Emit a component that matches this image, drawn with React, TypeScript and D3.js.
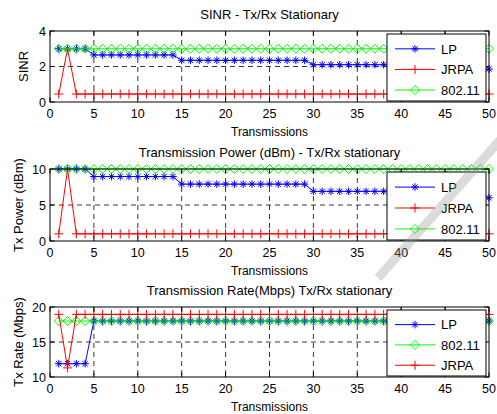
import * as d3 from "d3";

// transmissions 1..50
const transmissions = [
  1, 2, 3, 4, 5, 6, 7, 8, 9, 10, 11, 12, 13, 14, 15, 16, 17, 18, 19, 20,
  21, 22, 23, 24, 25, 26, 27, 28, 29, 30, 31, 32, 33, 34, 35, 36, 37, 38, 39, 40,
  41, 42, 43, 44, 45, 46, 47, 48, 49, 50,
];
const xTicks = [0, 5, 10, 15, 20, 25, 30, 35, 40, 45, 50];

// SINR
const sinrLP = [
  3, 3, 3, 3, 2.65, 2.65, 2.65, 2.65, 2.65, 2.65, 2.65, 2.65, 2.65, 2.65,
  2.35, 2.35, 2.35, 2.35, 2.35, 2.35, 2.35, 2.35, 2.35, 2.35, 2.35, 2.35, 2.35, 2.35, 2.35,
  2.1, 2.1, 2.1, 2.1, 2.1, 2.1, 2.1, 2.1, 2.1, 2.1, 2.1, 2.1, 2.1, 2.1, 2.1,
  1.85, 1.85, 1.85, 1.85, 1.85, 1.85,
];
const sinrJRPA = [
  0.45, 3, 0.45, 0.45, 0.45, 0.45, 0.45, 0.45, 0.45, 0.45, 0.45, 0.45, 0.45, 0.45, 0.45,
  0.45, 0.45, 0.45, 0.45, 0.45, 0.45, 0.45, 0.45, 0.45, 0.45, 0.45, 0.45, 0.45, 0.45, 0.45,
  0.45, 0.45, 0.45, 0.45, 0.45, 0.45, 0.45, 0.45, 0.45, 0.45, 0.45, 0.45, 0.45, 0.45, 0.45,
  0.45, 0.45, 0.45, 0.45, 0.45,
];
const sinr80211 = [
  3, 3, 3, 3, 3, 3, 3, 3, 3, 3, 3, 3, 3, 3, 3, 3, 3, 3, 3, 3, 3, 3, 3, 3, 3,
  3, 3, 3, 3, 3, 3, 3, 3, 3, 3, 3, 3, 3, 3, 3, 3, 3, 3, 3, 3, 3, 3, 3, 3, 3,
];

// Tx power (dBm)
const powerLP = [
  10, 10, 10, 10, 8.95, 8.95, 8.95, 8.95, 8.95, 8.95, 8.95, 8.95, 8.95, 8.95,
  7.9, 7.9, 7.9, 7.9, 7.9, 7.9, 7.9, 7.9, 7.9, 7.9, 7.9, 7.9, 7.9, 7.9, 7.9,
  6.9, 6.9, 6.9, 6.9, 6.9, 6.9, 6.9, 6.9, 6.9, 6.9, 6.9, 6.9, 6.9, 6.9, 6.9,
  6, 6, 6, 6, 6, 6,
];
const powerJRPA = [
  1, 10, 1, 1, 1, 1, 1, 1, 1, 1, 1, 1, 1, 1, 1, 1, 1, 1, 1, 1, 1, 1, 1, 1, 1,
  1, 1, 1, 1, 1, 1, 1, 1, 1, 1, 1, 1, 1, 1, 1, 1, 1, 1, 1, 1, 1, 1, 1, 1, 1,
];
const power80211 = [
  10, 10, 10, 10, 10, 10, 10, 10, 10, 10, 10, 10, 10, 10, 10, 10, 10, 10, 10, 10, 10, 10, 10, 10, 10,
  10, 10, 10, 10, 10, 10, 10, 10, 10, 10, 10, 10, 10, 10, 10, 10, 10, 10, 10, 10, 10, 10, 10, 10, 10,
];

// Tx rate (Mbps)
const rateLP = [
  11.9, 11.9, 11.9, 11.9, 18, 18, 18, 18, 18, 18, 18, 18, 18, 18, 18, 18, 18, 18, 18, 18, 18, 18, 18, 18, 18,
  18, 18, 18, 18, 18, 18, 18, 18, 18, 18, 18, 18, 18, 18, 18, 18, 18, 18, 18, 18, 18, 18, 18, 18, 18,
];
const rate80211 = [
  18, 18, 18, 18, 18, 18, 18, 18, 18, 18, 18, 18, 18, 18, 18, 18, 18, 18, 18, 18, 18, 18, 18, 18, 18,
  18, 18, 18, 18, 18, 18, 18, 18, 18, 18, 18, 18, 18, 18, 18, 18, 18, 18, 18, 18, 18, 18, 18, 18, 18,
];
const rateJRPA = [
  18.95, 11.3, 18.95, 18.95, 18.95, 18.95, 18.95, 18.95, 18.95, 18.95, 18.95, 18.95, 18.95, 18.95, 18.95,
  18.95, 18.95, 18.95, 18.95, 18.95, 18.95, 18.95, 18.95, 18.95, 18.95, 18.95, 18.95, 18.95, 18.95, 18.95,
  18.95, 18.95, 18.95, 18.95, 18.95, 18.95, 18.95, 18.95, 18.95, 18.95, 18.95, 18.95, 18.95, 18.95, 18.95,
  18.95, 18.95, 18.95, 18.95, 18.95,
];

const FONT = "'Liberation Sans', Arial, sans-serif";
const BLUE = "#0000ff";
const RED = "#ff0000";
const GREEN = "#00ff00";

type Series = { name: string; values: number[]; color: string; marker: "star" | "plus" | "diamond" };

const LP = (v: number[]): Series => ({ name: "LP", values: v, color: BLUE, marker: "star" });
const JR = (v: number[]): Series => ({ name: "JRPA", values: v, color: RED, marker: "plus" });
const WF = (v: number[]): Series => ({ name: "802.11", values: v, color: GREEN, marker: "diamond" });

const panels = [
  {
    title: "SINR - Tx/Rx Stationary",
    ylabel: "SINR",
    yDomain: [0, 4],
    yTicks: [0, 2, 4],
    top: 31, bottom: 102, ylabX: 28,
    series: [LP(sinrLP), JR(sinrJRPA), WF(sinr80211)],
  },
  {
    title: "Transmission Power (dBm) - Tx/Rx stationary",
    ylabel: "Tx Power (dBm)",
    yDomain: [0, 10],
    yTicks: [0, 5, 10],
    top: 169, bottom: 241, ylabX: 23,
    series: [LP(powerLP), JR(powerJRPA), WF(power80211)],
  },
  {
    title: "Transmission Rate(Mbps) Tx/Rx stationary",
    ylabel: "Tx Rate (Mbps)",
    yDomain: [10, 20],
    yTicks: [10, 15, 20],
    top: 307, bottom: 377, ylabX: 23,
    series: [LP(rateLP), WF(rate80211), JR(rateJRPA)],
  },
];

const LEFT = 50;
const RIGHT = 489;

function Marker({ type, x, y, color }: { type: string; x: number; y: number; color: string }) {
  if (type === "plus") {
    const r = 4.5;
    return <path d={`M${x - r},${y}H${x + r}M${x},${y - r}V${y + r}`} stroke={color} strokeWidth={1} fill="none" />;
  }
  if (type === "diamond") {
    const r = 4.5;
    return <path d={`M${x},${y - r}L${x + r},${y}L${x},${y + r}L${x - r},${y}Z`} stroke={color} strokeWidth={1} fill="none" />;
  }
  const r = 3.8, q = 2.7;
  return (
    <path
      d={`M${x - r},${y}H${x + r}M${x},${y - r}V${y + r}M${x - q},${y - q}L${x + q},${y + q}M${x - q},${y + q}L${x + q},${y - q}`}
      stroke={color} strokeWidth={1} fill="none"
    />
  );
}

function Panel({ p }: { p: (typeof panels)[number] }) {
  const x = d3.scaleLinear().domain([0, 50]).range([LEFT, RIGHT]);
  const y = d3.scaleLinear().domain(p.yDomain).range([p.bottom, p.top]);
  const mid = (p.top + p.bottom) / 2;
  const tl = 4.5;
  const legend = { x0: 387, x1: 486, y0: p.top + 3, y1: p.bottom - 1 };
  const rowH = (legend.y1 - legend.y0) / 3.25;
  return (
    <g>
      <rect x={LEFT} y={p.top} width={RIGHT - LEFT} height={p.bottom - p.top} fill="#fff" />
      {/* grid */}
      {xTicks.slice(1, -1).map((t) => (
        <line key={t} x1={x(t)} x2={x(t)} y1={p.top} y2={p.bottom} stroke="#222" strokeDasharray="5,4" strokeWidth={0.9} />
      ))}
      {p.yTicks.slice(1, -1).map((t) => (
        <line key={t} x1={LEFT} x2={RIGHT} y1={y(t)} y2={y(t)} stroke="#222" strokeDasharray="5,4" strokeWidth={0.9} />
      ))}
      {/* series */}
      {p.series.map((s) => {
        const line = d3.line<number>().x((_, i) => x(transmissions[i])).y((d) => y(d));
        return (
          <g key={s.name}>
            <path d={line(s.values) || ""} fill="none" stroke={s.color} strokeWidth={1} />
            {s.values.map((v, i) => (
              <Marker key={i} type={s.marker} x={x(transmissions[i])} y={y(v)} color={s.color} />
            ))}
          </g>
        );
      })}
      {/* axes box */}
      <rect x={LEFT} y={p.top} width={RIGHT - LEFT} height={p.bottom - p.top} fill="none" stroke="#000" strokeWidth={1} />
      {xTicks.map((t) => (
        <g key={t}>
          <line x1={x(t)} x2={x(t)} y1={p.bottom} y2={p.bottom - tl} stroke="#000" />
          <line x1={x(t)} x2={x(t)} y1={p.top} y2={p.top + tl} stroke="#000" />
          <text x={x(t)} y={p.bottom + 16} textAnchor="middle" fontSize={12.5} fontFamily={FONT}>{t}</text>
        </g>
      ))}
      {p.yTicks.map((t) => (
        <g key={t}>
          <line x1={LEFT} x2={LEFT + tl} y1={y(t)} y2={y(t)} stroke="#000" />
          <line x1={RIGHT} x2={RIGHT - tl} y1={y(t)} y2={y(t)} stroke="#000" />
          <text x={LEFT - 4} y={y(t) + 4.5} textAnchor="end" fontSize={12.5} fontFamily={FONT}>{t}</text>
        </g>
      ))}
      <text x={(LEFT + RIGHT) / 2} y={p.top - 12} textAnchor="middle" fontSize={13} fontFamily={FONT}>{p.title}</text>
      <text x={(LEFT + RIGHT) / 2} y={p.bottom + 33.5} textAnchor="middle" fontSize={12} fontFamily={FONT}>Transmissions</text>
      <text transform={`translate(${p.ylabX},${mid}) rotate(-90)`} textAnchor="middle" fontSize={13} fontFamily={FONT}>{p.ylabel}</text>
      {/* legend */}
      <rect x={legend.x0} y={legend.y0} width={legend.x1 - legend.x0} height={legend.y1 - legend.y0} fill="#fff" stroke="#000" strokeWidth={1} />
      {p.series.map((s, i) => {
        const ly = legend.y0 + rowH * (i + 0.72);
        return (
          <g key={s.name}>
            <line x1={395} x2={435} y1={ly} y2={ly} stroke={s.color} strokeWidth={1} />
            <Marker type={s.marker} x={415} y={ly} color={s.color} />
            <text x={441} y={ly + 4.7} fontSize={13} fontFamily={FONT}>{s.name}</text>
          </g>
        );
      })}
    </g>
  );
}

export default function App() {
  return (
    <svg width={497} height={414} style={{ position: "absolute", left: 0, top: 0, background: "#fff" }}>
      <rect width={497} height={414} fill="#fff" />
      {panels.map((p) => (
        <Panel key={p.title} p={p} />
      ))}
      {/* faint watermark band */}
      <line x1={500} x2={378} y1={140} y2={278} stroke="#999" strokeOpacity={0.35} strokeWidth={9} />
    </svg>
  );
}
